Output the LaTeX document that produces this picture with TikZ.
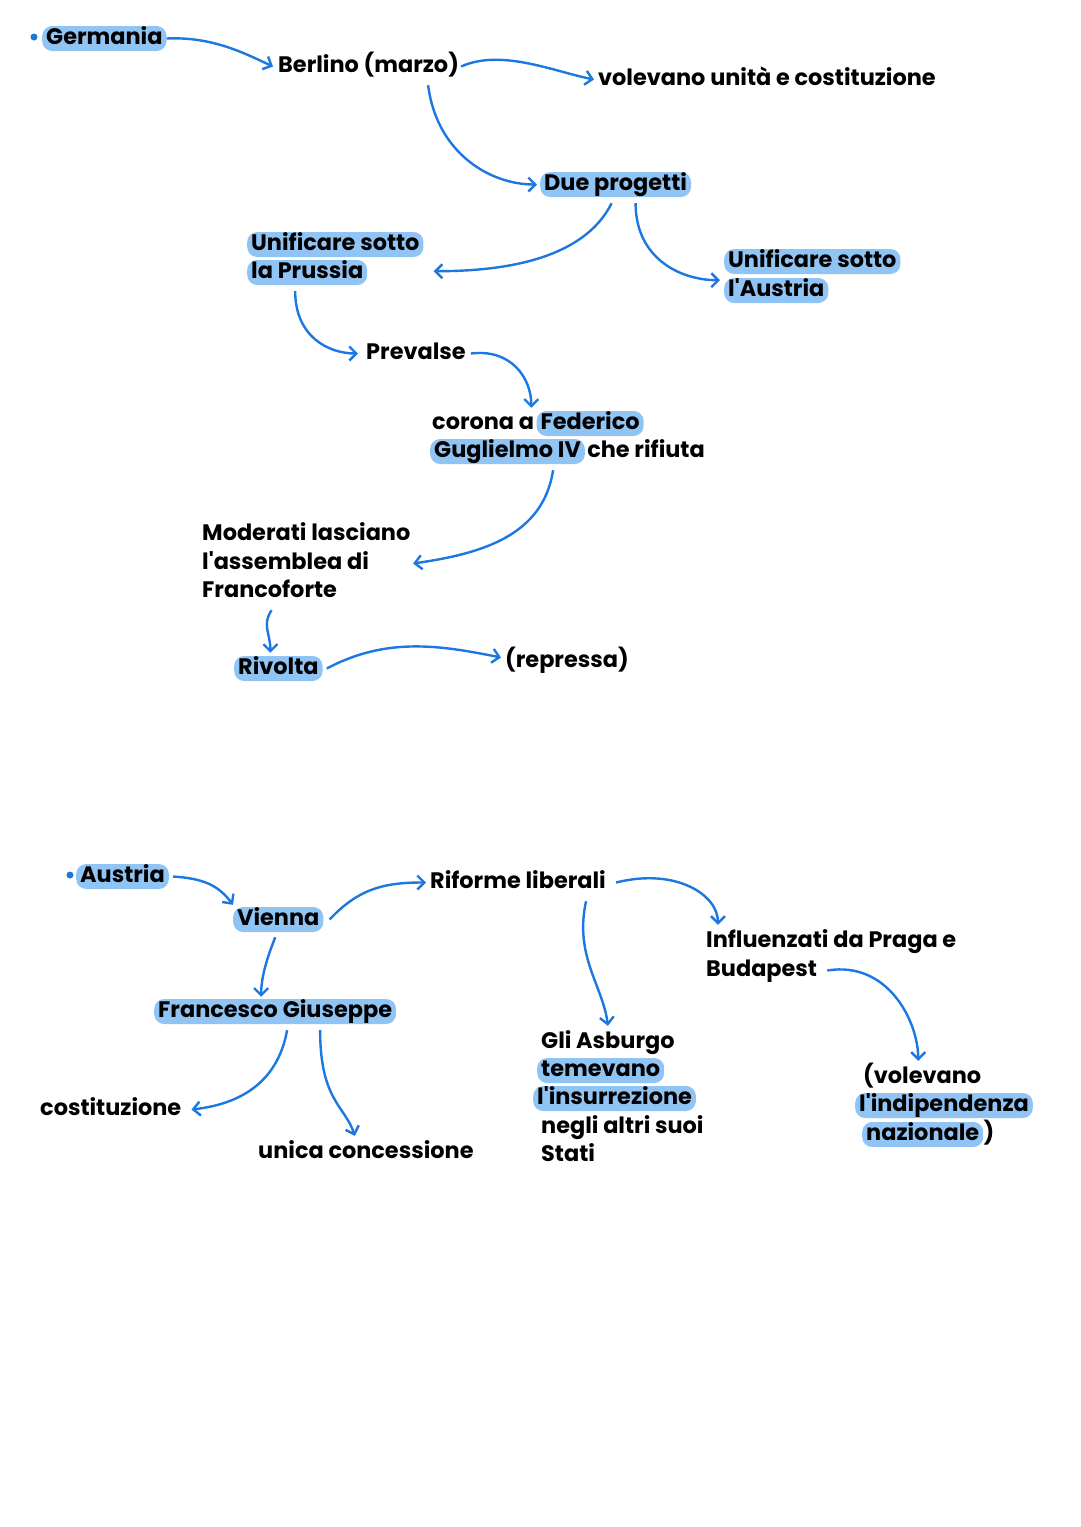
\documentclass[tikz,border=0pt]{standalone}
\usepackage{fontspec}
\newfontfamily\hand{Poppins}
\usetikzlibrary{arrows.meta,calc}
\definecolor{hlblue}{HTML}{8FC4F4}
\definecolor{arrblue}{HTML}{1C78E0}
\tikzset{
  txt/.style={inner xsep=2pt, inner ysep=2pt, font=\hand\bfseries\fontsize{22.4}{27}\selectfont, text height=16pt, text depth=5pt, anchor=base west},
  hl/.style={txt, fill=hlblue, rounded corners=10pt, inner xsep=4pt},
  arr/.style={draw=arrblue, line width=2.4pt, -{Straight Barb[length=7pt,width=14pt,line width=2.4pt]}},
  dot/.style={circle, fill=arrblue, inner sep=0pt, minimum size=7pt},
}
\begin{document}
\begin{tikzpicture}[x=1pt,y=-1pt]
\useasboundingbox (0,0) rectangle (1080,1527);
\fill[white] (0,0) rectangle (1080,1527);
% ---------- Germania ----------
\node[dot] (d1) at (34,37) {};
\node[hl] (ger) at (42,44) {Germania};
\node[txt] (ber) at (276,72) {Berlino (marzo)};
\node[txt] (vol) at (596,85) {volevano unità e costituzione};
\node[hl] (due) at (540,190) {Due progetti};
\node[hl] (p1) at (247,250) {Unificare sotto};
\node[hl] (p2) at (247,278) {la Prussia};
\node[hl] (a1) at (724,267) {Unificare sotto};
\node[hl] (a2) at (724,296) {l'Austria};
\node[txt] (prev) at (364,359) {Prevalse};
\node[txt] (c1) at (430,429) {corona a};
\node[hl] (c2) at (c1.base east) {Federico};
\node[hl] (g1) at (430,457) {Guglielmo IV};
\node[txt] (g2) at (g1.base east) {che rifiuta};
\node[txt] (m1) at (200,540) {Moderati lasciano};
\node[txt] (m2) at (200,569) {l'assemblea di};
\node[txt] (m3) at (200,597) {Francoforte};
\node[hl] (riv) at (234,674) {Rivolta};
\node[txt] (rep) at (503,667) {(repressa)};
% ---------- Austria ----------
\node[dot] (d2) at (70,875) {};
\node[hl] (aus) at (76,882) {Austria};
\node[hl] (vie) at (233,925) {Vienna};
\node[txt] (rif) at (428,888) {Riforme liberali};
\node[hl] (fra) at (154,1017) {Francesco Giuseppe};
\node[txt] (cos) at (38,1115) {costituzione};
\node[txt] (uni) at (256,1158) {unica concessione};
\node[txt] (s1) at (539,1048) {Gli Asburgo};
\node[hl] (s2) at (537,1076) {temevano};
\node[hl] (s3) at (533,1104) {l'insurrezione};
\node[txt] (s4) at (539,1133) {negli altri suoi};
\node[txt] (s5) at (539,1161) {Stati};
\node[txt] (i1) at (704,947) {Influenzati da Praga e};
\node[txt] (i2) at (704,976) {Budapest};
\node[txt] (v1) at (861,1083) {(volevano};
\node[hl] (v2) at (855,1111) {l'indipendenza};
\node[hl] (v3) at (862,1140) {nazionale};
\node[txt,inner xsep=0pt] (v4) at (v3.base east) {)};
% ---------- connectors ----------
\draw[arr] (ger.east) .. controls +(45,-2) and +(-30,-14) .. ([xshift=-3pt]ber.west);
\draw[arr] (ber.east) .. controls +(40,-18) and +(-40,-8) .. ([xshift=-2pt]vol.west);
\draw[arr] ([xshift=-33pt,yshift=-6pt]ber.south east) .. controls +(8,65) and +(-50,0) .. ([xshift=-3pt]due.west);
\draw[arr] ([xshift=-4pt,yshift=-6pt]due.south) .. controls +(-30,60) and +(60,0) .. ($(p1.south east)+(10,14)$);
\draw[arr] ([xshift=20pt,yshift=-6pt]due.south) .. controls +(0,55) and +(-40,0) .. ($(a1.south west)+(-4,6)$);
\draw[arr] ($(p2.south west)!0.4!(p2.south east)+(0,6)$) .. controls +(0,45) and +(-30,0) .. ([xshift=-6pt]prev.west);
\draw[arr] ([xshift=3pt]prev.east) .. controls +(40,-5) and +(0,-30) .. ([xshift=-5pt,yshift=3pt]c1.north east);
\draw[arr] ([xshift=-32pt,yshift=-6pt]g1.south east) .. controls +(-10,65) and +(70,-10) .. ($(m2.east)+(42,0)$);
\draw[arr] ([xshift=2pt,yshift=-6pt]m3.south) .. controls +(-10,15) and +(0,-20) .. ([xshift=-8pt,yshift=3pt]riv.north);
\draw[arr] ([xshift=4pt]riv.east) .. controls +(60,-32) and +(-60,-12) .. ([xshift=-2pt,yshift=4pt]rep.west);
\draw[arr] ([xshift=4pt]aus.east) .. controls +(30,2) and +(-15,-20) .. ([yshift=2pt]vie.north west);
\draw[arr] ([xshift=6pt]vie.east) .. controls +(30,-32) and +(-40,0) .. ([xshift=-2pt]rif.west);
\draw[arr] ([xshift=-3pt,yshift=-5pt]vie.south) .. controls +(-8,20) and +(0,-20) .. ([xshift=-14pt,yshift=2pt]fra.north);
\draw[arr] ([xshift=12pt,yshift=-6pt]fra.south) .. controls +(-10,55) and +(45,-5) .. ([xshift=8pt]cos.east);
\draw[arr] ([xshift=45pt,yshift=-6pt]fra.south) .. controls +(0,70) and +(-10,-30) .. ([xshift=-11pt,yshift=4pt]uni.north);
\draw[arr] ([xshift=-22pt,yshift=-6pt]rif.south east) .. controls +(-12,55) and +(-5,-40) .. ([yshift=4pt]s1.north);
\draw[arr] ([xshift=8pt]rif.east) .. controls +(60,-15) and +(0,-30) .. ([xshift=14pt,yshift=4pt]i1.north west);
\draw[arr] ([xshift=8pt]i2.east) .. controls +(60,-10) and +(0,-40) .. ([xshift=-4pt,yshift=4pt]v1.north);
\end{tikzpicture}
\end{document}
